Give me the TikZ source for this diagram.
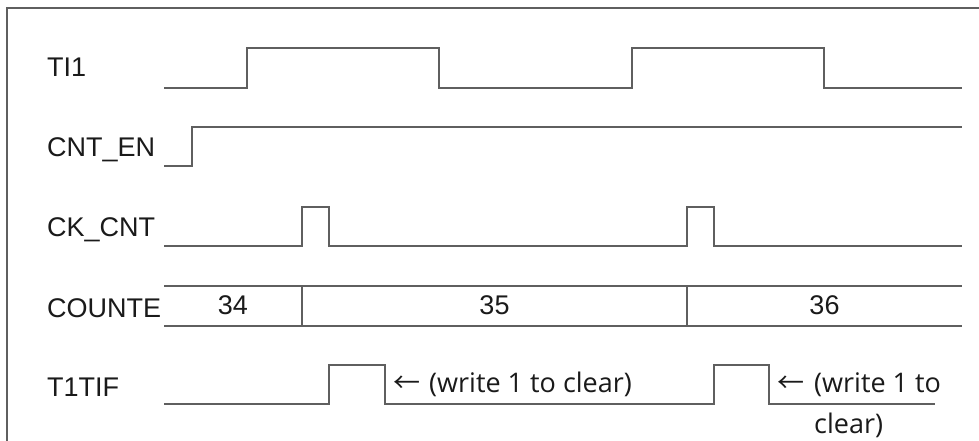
\documentclass[tikz,border=0pt]{standalone}
\usepackage{fontspec}
\setmainfont{Liberation Sans}
\newfontfamily\notefont{Open Sans}
\newfontfamily\arrowfont{Noto Sans CJK SC}
\definecolor{wire}{HTML}{5F5F5F}
\definecolor{ink}{HTML}{1A1A1A}
\begin{document}
\begin{tikzpicture}[x=1pt,y=-1pt,
  sig/.style={draw=wire, line width=1.4pt, line join=miter},
  lbl/.style={anchor=base west, inner sep=0pt, text=ink, font=\fontsize{27}{32}\selectfont},
  val/.style={anchor=base, inner sep=0pt, text=ink, font=\fontsize{27}{32}\selectfont},
  note/.style={anchor=base west, inner sep=0pt, text=ink, font=\notefont\fontsize{27}{32}\selectfont},
  arr/.style={anchor=base west, inner sep=0pt, text=ink, font=\arrowfont\fontsize{27}{32}\selectfont}]
\useasboundingbox (0,0) rectangle (979,441);
\draw[draw=wire, line width=1.4pt] (7,441) -- (7,8) -- (979,8);
% labels
\node[lbl] (lti) at (47,77) {TI1};
\node[lbl] (len) at (47,157) {CNT\_EN};
\node[lbl] (lck) at (47,236) {CK\_CNT};
\node[lbl] (lco) at (47,317) {COUNTE};
\node[lbl] (ltf) at (47,396) {T1TIF};
% TI1
\draw[sig] (164,88) -- (247,88) -- (247,48) -- (439,48) -- (439,88) -- (632,88) -- (632,48) -- (824,48) -- (824,88) -- (962,88);
% CNT_EN
\draw[sig] (164,166) -- (192,166) -- (192,127) -- (962,127);
% CK_CNT
\draw[sig] (164,246) -- (302,246) -- (302,207) -- (329,207) -- (329,246) -- (687,246) -- (687,207) -- (714,207) -- (714,246) -- (962,246);
% COUNTE
\draw[sig] (164,286) -- (962,286);
\draw[sig] (164,326) -- (962,326);
\draw[sig] (302,286) -- (302,326);
\draw[sig] (687,286) -- (687,326);
\node[val] (v34) at (233,314) {34};
\node[val] (v35) at (494.5,314) {35};
\node[val] (v36) at (824.5,314) {36};
% T1TIF
\draw[sig] (164,404) -- (329,404) -- (329,365) -- (385,365) -- (385,404) -- (714,404) -- (714,365) -- (769,365) -- (769,404) -- (935,404);
\node[arr] (a1) at (393,392) {←};
\node[note] (n1) at (429,392) {(write 1 to clear)};
\node[arr] (a2) at (777,392) {←};
\node[note] (n2) at (814,392) {(write 1 to};
\node[note] (n3) at (814,433) {clear)};
\end{tikzpicture}
\end{document}
